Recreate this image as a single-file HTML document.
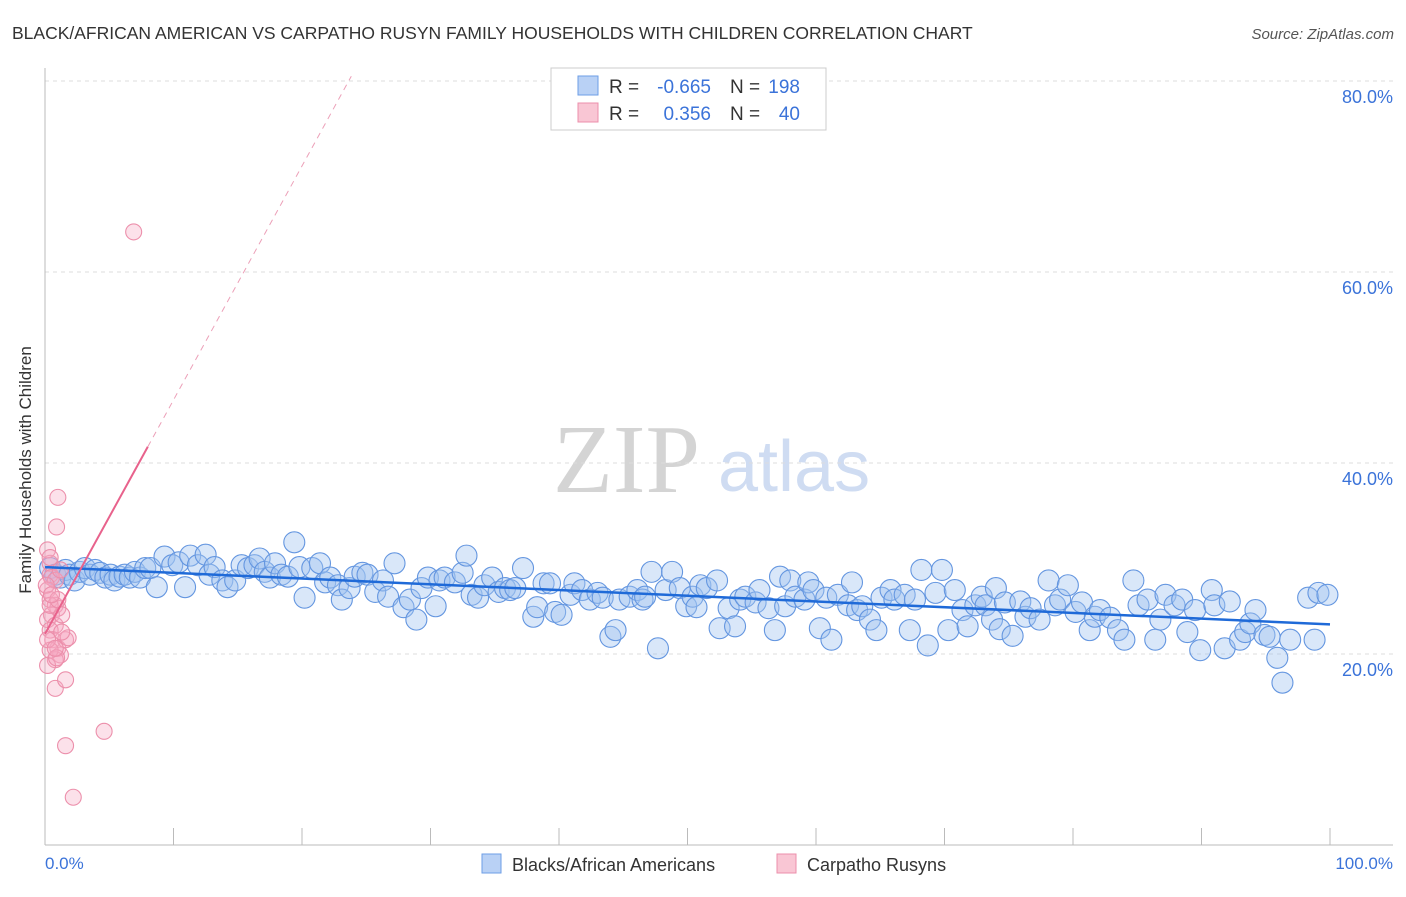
<!DOCTYPE html>
<html><head><meta charset="utf-8"><style>
body{margin:0;background:#fff;font-family:"Liberation Sans",sans-serif;}
</style></head><body>
<svg width="1406" height="892" viewBox="0 0 1406 892" font-family="Liberation Sans, sans-serif">
<text x="12" y="39" font-size="17.5" fill="#333">BLACK/AFRICAN AMERICAN VS CARPATHO RUSYN FAMILY HOUSEHOLDS WITH CHILDREN CORRELATION CHART</text>
<text x="1394" y="39" font-size="15" fill="#555" font-style="italic" text-anchor="end">Source: ZipAtlas.com</text>
<g>
<text x="553" y="492" font-size="98" fill="#d4d4d4" style="font-family:'Liberation Serif',serif">ZIP</text>
<text x="718" y="491" font-size="72" fill="#cfdcf2">atlas</text>
</g>
<g id="grid"></g>
<line x1="45" y1="68" x2="45" y2="845" stroke="#bbb"/>
<line x1="45" y1="845" x2="1393" y2="845" stroke="#bbb"/>
<g id="xticks"></g>
<text x="18" y="457" font-size="17" fill="#333" transform="rotate(-90 31 457)" text-anchor="middle">Family Households with Children</text>
<text x="45" y="869" font-size="17" fill="#3b73d9">0.0%</text>
<text x="1393" y="869" font-size="17" fill="#3b73d9" text-anchor="end">100.0%</text>
<g id="pts"></g>
<g id="trend"></g>
<g>
<rect x="551" y="68" width="275" height="62" fill="#fff" stroke="#ccc"/>
<rect x="578" y="76" width="20" height="19" fill="#b9d1f5" stroke="#6d9ee6"/>
<rect x="578" y="103" width="20" height="19" fill="#f9c6d4" stroke="#ec8fab"/>
<text x="609" y="93" font-size="19" fill="#333">R =</text>
<text x="711" y="93" font-size="19" fill="#3b73d9" text-anchor="end">-0.665</text>
<text x="730" y="93" font-size="19" fill="#333">N =</text>
<text x="800" y="93" font-size="19" fill="#3b73d9" text-anchor="end">198</text>
<text x="609" y="120" font-size="19" fill="#333">R =</text>
<text x="711" y="120" font-size="19" fill="#3b73d9" text-anchor="end">0.356</text>
<text x="730" y="120" font-size="19" fill="#333">N =</text>
<text x="800" y="120" font-size="19" fill="#3b73d9" text-anchor="end">40</text>
</g>
<g>
<rect x="482" y="854" width="19" height="19" fill="#b9d1f5" stroke="#6d9ee6"/>
<text x="512" y="871" font-size="18" fill="#333">Blacks/African Americans</text>
<rect x="777" y="854" width="19" height="19" fill="#f9c6d4" stroke="#ec8fab"/>
<text x="807" y="871" font-size="18" fill="#333">Carpatho Rusyns</text>
</g>
</svg>
<script>
const yTicks=[20,40,60,80];
const yTickLabels=["20.0%","40.0%","60.0%","80.0%"];
const xTicks=[0,10,20,30,40,50,60,70,80,90,100];
const blueX=[0.4,0.8,1.2,1.6,1.9,2.3,2.7,3.1,3.5,3.9,4.3,4.7,5.1,5.4,5.8,6.2,6.6,7.0,7.4,7.8,8.2,8.7,9.3,9.9,10.4,10.9,11.3,11.9,12.5,12.8,13.2,13.8,14.2,14.8,15.3,15.8,16.3,16.7,17.1,17.5,17.9,18.4,18.9,19.4,19.8,20.2,20.8,21.4,21.8,22.2,22.8,23.1,23.7,24.1,24.7,25.1,25.7,26.3,26.7,27.2,27.9,28.4,28.9,29.3,29.8,30.4,30.7,31.1,31.9,32.5,32.8,33.2,33.7,34.2,34.8,35.3,35.8,36.2,36.6,37.2,38.0,38.3,38.8,39.3,39.7,40.2,40.9,41.2,41.8,42.4,43.0,43.4,44.0,44.4,44.7,45.5,46.1,46.5,46.7,47.2,47.7,48.3,48.8,49.4,49.9,50.4,50.7,51.0,51.5,52.3,52.5,53.2,53.7,54.1,54.5,55.3,55.6,56.3,56.8,57.2,57.6,58.0,58.4,59.1,59.4,59.8,60.3,60.8,61.2,61.7,62.5,62.8,63.2,63.6,64.2,64.7,65.1,65.8,66.1,66.9,67.3,67.7,68.2,68.7,69.3,69.8,70.3,70.8,71.4,71.8,72.4,72.9,73.2,73.7,74.0,74.3,74.7,75.3,75.9,76.3,76.7,77.4,78.1,78.6,79.0,79.6,80.2,80.7,81.3,81.7,82.1,82.9,83.5,84.0,84.7,85.1,85.8,86.4,86.8,87.2,87.9,88.5,88.9,89.5,89.9,90.8,91.0,91.8,92.2,93.0,93.4,93.8,94.2,94.9,95.3,95.9,96.3,96.9,98.3,98.8,99.1,99.8];
const blueY=[29.0,28.3,28.0,28.8,28.3,27.7,28.6,29.0,28.3,28.8,28.5,28.0,28.3,27.7,28.1,28.3,28.0,28.6,28.0,29.0,29.0,27.0,30.2,29.3,29.6,27.0,30.3,29.3,30.4,28.3,29.1,27.7,27.0,27.7,29.3,29.0,29.3,30.0,28.6,28.0,29.5,28.3,28.1,31.7,29.1,25.9,29.0,29.5,27.5,28.0,27.2,25.7,26.9,28.1,28.5,28.3,26.5,27.7,26.0,29.5,24.9,25.7,23.6,26.9,28.0,25.0,27.7,28.0,27.5,28.5,30.3,26.2,25.9,27.2,28.0,26.5,26.9,26.7,26.9,29.0,23.9,24.9,27.4,27.4,24.4,24.1,26.2,27.4,26.7,25.7,26.4,25.9,21.8,22.5,25.7,26.0,26.7,25.7,26.0,28.6,20.6,26.7,28.6,26.9,25.0,26.0,24.9,27.2,26.9,27.7,22.7,24.8,22.9,25.7,26.0,25.4,26.7,24.8,22.5,28.1,25.0,27.7,26.0,25.7,27.5,26.7,22.7,25.9,21.5,26.2,25.1,27.5,24.6,25.0,23.6,22.5,25.9,26.7,25.7,26.2,22.5,25.7,28.8,20.9,26.4,28.8,22.5,26.7,24.6,22.9,25.1,26.0,25.1,23.6,26.9,22.6,25.4,21.9,25.5,23.9,24.8,23.6,27.7,25.1,25.7,27.2,24.4,25.4,22.5,23.9,24.6,23.8,22.5,21.5,27.7,25.1,25.7,21.5,23.6,26.2,25.1,25.7,22.3,24.6,20.4,26.7,25.1,20.6,25.5,21.5,22.3,23.2,24.6,22.0,21.8,19.6,17.0,21.5,25.9,21.5,26.4,26.2];
const pinkX=[0.4,0.4,0.5,0.8,0.2,0.4,0.8,1.0,0.5,0.2,0.8,0.4,0.6,1.0,1.2,0.8,0.2,1.6,1.8,1.3,0.4,0.9,0.8,1.6,1.0,0.9,0.2,0.4,1.6,4.6,2.2,6.9,0.4,1.0,0.1,0.5,1.2,0.2,0.8,1.3];
const pinkY=[29.5,28.3,28.0,27.7,26.7,25.7,25.1,24.8,24.1,23.6,23.0,22.5,21.5,20.6,19.9,19.4,18.8,21.5,21.7,24.1,20.4,19.6,16.4,17.3,36.4,33.3,30.9,30.1,10.4,11.9,5.0,64.2,25.1,25.7,27.2,26.2,28.8,21.5,20.6,22.3];
const blueTrend=[29.1,23.1];
const pinkTrend=[22.1,2.45];
const NS="http://www.w3.org/2000/svg";
const X0=45,X1=1330,Y0=845,YPX=9.55;
function sx(v){return X0+(X1-X0)*v/100;}
function sy(v){return Y0-v*YPX;}
function mk(t,a,p){const e=document.createElementNS(NS,t);for(const k in a)e.setAttribute(k,a[k]);p.appendChild(e);return e;}
const grid=document.getElementById('grid');
yTicks.forEach((t,i)=>{
 const l=mk('line',{x1:45,x2:1393,y1:sy(t),y2:sy(t),stroke:'#ddd','stroke-dasharray':'4,4'},grid);
 
 
 const tx=mk('text',{x:1393,y:sy(t)+22,'font-size':18,fill:'#3b73d9','text-anchor':'end'},grid);
 tx.textContent=yTickLabels[i];
 
 
});
const xt=document.getElementById('xticks');
xTicks.forEach(t=>{
 const l=mk('line',{x1:sx(t),x2:sx(t),y1:828,y2:845,stroke:'#bbb'},xt);
 
 
});
const pts=document.getElementById('pts');
blueX.forEach((x,i)=>{
 const c=mk('circle',{cx:sx(x),cy:sy(blueY[i]),r:10.5,fill:'rgba(160,195,240,0.4)',stroke:'#6496e0','stroke-width':1.1},pts);
 
 
});
pinkX.forEach((x,i)=>{
 const c=mk('circle',{cx:sx(x),cy:sy(pinkY[i]),r:8,fill:'rgba(245,170,195,0.35)',stroke:'#ec8fab','stroke-width':1.1},pts);
 
 
});
const tr=document.getElementById('trend');
const bl=mk('line',{x1:sx(0),y1:sy(blueTrend[0]),x2:sx(100),y2:sy(blueTrend[1]),stroke:'#1f6ad8','stroke-width':2.5},tr);


const pl=mk('line',{x1:sx(0),y1:sy(pinkTrend[0]),x2:sx(8),y2:sy(pinkTrend[0]+8*pinkTrend[1]),stroke:'#e8628c','stroke-width':2},tr);


const xe=(80.5-pinkTrend[0])/pinkTrend[1];
const pd=mk('line',{x1:sx(8),y1:sy(pinkTrend[0]+8*pinkTrend[1]),x2:sx(xe),y2:sy(80.5),stroke:'#eca0b8','stroke-width':1,'stroke-dasharray':'6,5'},tr);


</script>
</body></html>
